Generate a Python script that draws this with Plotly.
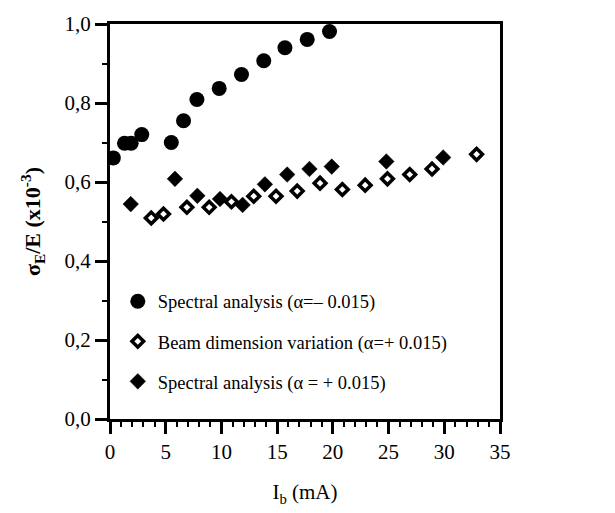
import plotly.graph_objects as go

# Spectral analysis (alpha = -0.015), filled circles
sa_neg_x = [0.3, 1.3, 1.9, 2.85, 5.5, 6.6, 7.8, 9.8, 11.8, 13.8, 15.7, 17.7, 19.7]
sa_neg_y = [0.661, 0.698, 0.698, 0.720, 0.700, 0.755, 0.809, 0.837, 0.872, 0.907, 0.940, 0.961, 0.981]

# Beam dimension variation (alpha = +0.015), open diamonds
bd_x = [3.7, 4.8, 6.9, 8.9, 10.9, 12.9, 14.9, 16.8, 18.85, 20.85, 22.9, 24.9, 26.9, 28.9, 32.9]
bd_y = [0.509, 0.519, 0.536, 0.536, 0.550, 0.564, 0.564, 0.577, 0.597, 0.581, 0.592, 0.608, 0.619, 0.633, 0.670]

# Spectral analysis (alpha = +0.015), filled diamonds
sa_pos_x = [1.86, 5.83, 7.84, 9.87, 11.9, 13.9, 15.9, 17.9, 19.9, 24.8, 29.9]
sa_pos_y = [0.544, 0.608, 0.565, 0.557, 0.542, 0.594, 0.619, 0.633, 0.639, 0.652, 0.662]

x_ticks = [0, 5, 10, 15, 20, 25, 30, 35]
y_ticks = [0.0, 0.2, 0.4, 0.6, 0.8, 1.0]

FONT = "Liberation Serif"

fig = go.Figure()
fig.add_trace(go.Scatter(
    x=sa_neg_x, y=sa_neg_y, mode="markers",
    name="Spectral analysis (α=– 0.015)", legendgroup="a",
    marker=dict(symbol="circle", size=15, color="black"),
))
fig.add_trace(go.Scatter(
    x=bd_x, y=bd_y, mode="markers",
    name="Beam dimension variation (α=+ 0.015)", legendgroup="b",
    marker=dict(symbol="diamond", size=9, color="white", line=dict(color="black", width=3.5)),
))
fig.add_trace(go.Scatter(
    x=sa_pos_x, y=sa_pos_y, mode="markers",
    name="Spectral analysis (α = + 0.015)", legendgroup="c",
    marker=dict(symbol="diamond", size=12, color="black", line=dict(color="black", width=0.5)),
))

fig.update_layout(
    width=615, height=513,
    margin=dict(l=110, r=115, t=15, b=94),
    paper_bgcolor="white", plot_bgcolor="white",
    font=dict(family=FONT, color="black", size=20),
    separators=",.",
    showlegend=True,
    legend=dict(
        x=0.02, y=0.345, xanchor="left", yanchor="top",
        font=dict(family=FONT, size=18.5, color="black"),
        bgcolor="rgba(0,0,0,0)", traceorder="grouped", tracegroupgap=13,
    ),
    xaxis=dict(
        range=[0, 35], tickvals=x_ticks, ticktext=[str(v) for v in x_ticks],
        showline=True, linewidth=3, linecolor="black", mirror=True,
        ticks="outside", ticklen=12, tickwidth=2.5, tickcolor="black",
        minor=dict(dtick=1, tick0=0, ticks="outside", ticklen=5, tickwidth=2, tickcolor="black"),
        showgrid=False, zeroline=False,
        tickfont=dict(family=FONT, size=21),
        title=dict(text="I<sub>b</sub> (mA)", font=dict(family=FONT, size=21), standoff=22),
    ),
    yaxis=dict(
        range=[0, 1.0], tickvals=y_ticks, tickformat=".1f",
        showline=True, linewidth=3, linecolor="black", mirror=True,
        ticks="outside", ticklen=12, tickwidth=2.5, tickcolor="black",
        minor=dict(dtick=0.1, tick0=0, ticks="outside", ticklen=5, tickwidth=2, tickcolor="black"),
        showgrid=False, zeroline=False,
        tickfont=dict(family=FONT, size=21),
        title=dict(text="<b>σ<sub>E</sub>/E (x10<sup>-3</sup>)</b>", font=dict(family=FONT, size=22), standoff=18),
    ),
)

fig.write_html("out.html")
